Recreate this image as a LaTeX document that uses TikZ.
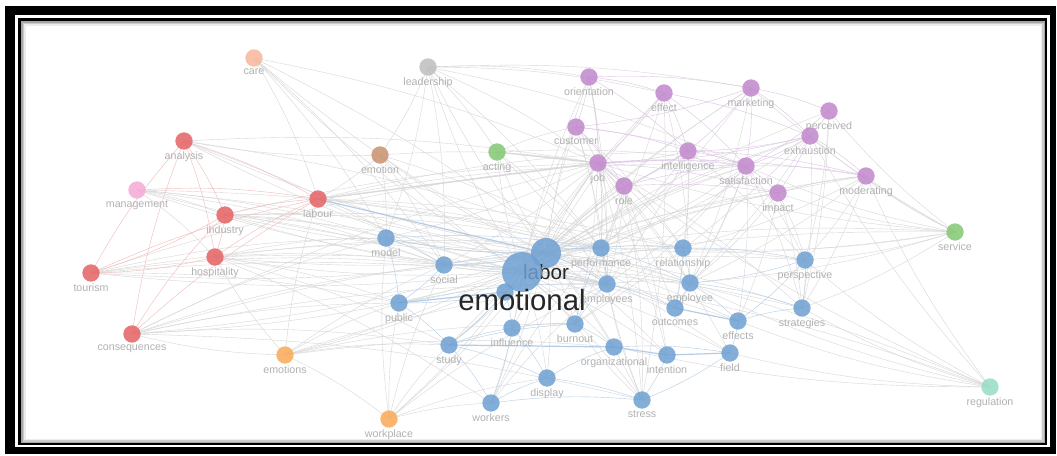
\documentclass[tikz,border=0pt]{standalone}
\usepackage{fontspec}
\setmainfont{Liberation Sans}
\usetikzlibrary{backgrounds}

\definecolor{cRed}{RGB}{229,98,100}
\definecolor{cBlue}{RGB}{110,160,210}
\definecolor{cPurple}{RGB}{193,136,205}
\definecolor{cGreen}{RGB}{130,200,115}
\definecolor{cTeal}{RGB}{150,220,195}
\definecolor{cOrange}{RGB}{250,170,85}
\definecolor{cPeach}{RGB}{248,183,155}
\definecolor{cBrown}{RGB}{200,145,110}
\definecolor{cPink}{RGB}{245,170,215}
\definecolor{cGrey}{RGB}{190,190,190}
\definecolor{eRed}{RGB}{242,185,185}
\definecolor{ePurple}{RGB}{220,195,228}
\definecolor{eBlue}{RGB}{180,205,230}
\definecolor{eGrey}{RGB}{215,215,215}

\tikzset{
    kw/.style={circle, minimum size=13pt, inner sep=0pt, fill opacity=0.85,
        label distance=-1.5pt},
    lbl/.style={font=\fontsize{8}{9}\selectfont, text=gray!60, inner sep=1pt},
    biglbl/.style={text=black!85, inner sep=0pt},
    edge/.style={eGrey, line width=0.3pt},
}

\begin{document}
\begin{tikzpicture}[x=0.75pt, y=-0.75pt]
    \useasboundingbox (0,0) rectangle (1057,455);

    % keywords, one colour per cluster
    \foreach \nm/\x/\y/\c in {care/254/58/cPeach, leadership/428/67/cGrey,
            orientation/589/77/cPurple, effect/664/93/cPurple, marketing/751/88/cPurple,
            perceived/829/111/cPurple, exhaustion/810/136/cPurple, analysis/184/141/cRed,
            customer/576/127/cPurple, intelligence/688/151/cPurple, acting/497/152/cGreen,
            emotion/380/155/cBrown, job/598/163/cPurple, satisfaction/746/166/cPurple,
            moderating/866/176/cPurple, management/137/190/cPink, role/624/186/cPurple,
            impact/778/193/cPurple, labour/318/199/cRed, industry/225/215/cRed,
            hospitality/215/257/cRed, tourism/91/273/cRed, model/386/238/cBlue,
            social/444/265/cBlue, performance/601/248/cBlue, relationship/683/248/cBlue,
            service/955/232/cGreen, perspective/805/260/cBlue, employees/607/284/cBlue,
            employee/690/283/cBlue, public/399/303/cBlue, outcomes/675/308/cBlue,
            strategies/802/308/cBlue, influence/512/328/cBlue, burnout/575/324/cBlue,
            effects/738/321/cBlue, consequences/132/334/cRed, study/449/345/cBlue,
            organizational/614/347/cBlue, intention/667/355/cBlue, field/730/353/cBlue,
            emotions/285/355/cOrange, display/547/378/cBlue, regulation/990/387/cTeal,
            workers/491/403/cBlue, stress/642/400/cBlue, workplace/389/419/cOrange}
        \node[kw, fill=\c, label={[lbl]below:\nm}] (\nm) at (\x,\y) {};

    \node[kw, fill=cBlue] (under) at (505,292) {};
    \node[kw, fill=cBlue, minimum size=22.5pt,
        label={[biglbl, yshift=3pt, font=\fontsize{15.5}{16}\selectfont]below:labor}] (labor) at (546,253) {};
    \node[kw, fill=cBlue, minimum size=30pt,
        label={[biglbl, yshift=2.5pt, font=\fontsize{22}{24}\selectfont]below:emotional}] (emotional) at (522,272) {};

    \begin{scope}[on background layer]
        % frame
        \fill[white] (0,0) rectangle (1057,455);
        \fill[black] (5,6) rectangle (1056,454);
        \fill[white] (15,15) rectangle (1050,447);
        \fill[black] (18,18) rectangle (1047,445);
        \fill[gray!70] (21,21) rectangle (1045,443);
        \fill[gray!40] (22.5,22.5) rectangle (1043.5,441.5);
        \fill[gray!15] (24,24) rectangle (1042,440);
        \fill[white] (25.5,25.5) rectangle (1040.5,438.5);

        % links to the two hubs
        \foreach \n in {care,leadership,orientation,effect,marketing,perceived,exhaustion,
                analysis,customer,intelligence,acting,emotion,job,satisfaction,moderating,
                management,role,impact,labour,industry,hospitality,tourism,model,social,
                performance,relationship,service,perspective,employees,employee,public,
                outcomes,strategies,influence,burnout,effects,consequences,study,
                organizational,intention,field,emotions,display,regulation,workers,stress,
                workplace,under}
            \draw[edge] (emotional.center) to[bend left=6] (\n.center);
        \foreach \n in {care,leadership,orientation,effect,marketing,exhaustion,analysis,
                customer,intelligence,acting,emotion,job,satisfaction,moderating,management,
                role,impact,labour,industry,hospitality,tourism,model,social,performance,
                relationship,service,perspective,employees,employee,public,outcomes,
                strategies,influence,burnout,effects,consequences,study,organizational,
                intention,field,emotions,display,regulation,workers,stress,workplace}
            \draw[edge] (labor.center) to[bend left=6] (\n.center);

        % links between clusters
        \foreach \a/\b in {care/labour, care/model, care/job, care/social, care/employees,
                leadership/emotion, leadership/acting, leadership/job, leadership/orientation,
                leadership/marketing, leadership/model, leadership/performance, leadership/social,
                leadership/satisfaction, leadership/effect, labour/performance,
                labour/relationship, labour/employee, labour/intelligence, labour/satisfaction,
                acting/satisfaction, acting/performance, acting/employees, acting/customer,
                emotion/job, emotion/model, emotion/social, emotion/performance, emotion/labour,
                emotion/analysis, service/moderating, service/perspective, service/strategies,
                service/exhaustion, service/job, service/performance, service/employee,
                service/relationship, service/perceived, service/marketing, service/satisfaction,
                service/impact, regulation/strategies, regulation/perspective, regulation/field,
                regulation/exhaustion, regulation/job, regulation/employee,
                regulation/organizational, regulation/moderating, regulation/effects,
                emotions/workplace, emotions/consequences, emotions/study, emotions/public,
                emotions/social, emotions/employees, emotions/hospitality, emotions/labour,
                emotions/burnout, emotions/organizational, consequences/study, consequences/model,
                consequences/job, consequences/employees, consequences/social, consequences/public,
                consequences/performance, consequences/stress, tourism/model, tourism/social,
                tourism/employees, tourism/job, tourism/performance, tourism/public,
                hospitality/social, hospitality/model, hospitality/performance,
                hospitality/employees, hospitality/public, hospitality/study, hospitality/workers,
                industry/model, industry/social, industry/performance, industry/job,
                industry/employees, industry/relationship, analysis/job, analysis/performance,
                analysis/social, management/model, management/social, management/performance,
                management/employees, management/hospitality, management/industry,
                job/performance, job/employees, job/burnout, job/employee, job/outcomes,
                job/stress, job/relationship, job/strategies, job/intention, job/study,
                job/social, job/model, job/field, satisfaction/performance, satisfaction/employees,
                satisfaction/employee, satisfaction/outcomes, satisfaction/strategies,
                satisfaction/perspective, satisfaction/burnout, satisfaction/effects,
                intelligence/performance, intelligence/employees, intelligence/relationship,
                intelligence/outcomes, intelligence/perspective, role/performance,
                role/employees, role/stress, role/intention, role/burnout, impact/strategies,
                impact/perspective, impact/employee, impact/effects, moderating/perspective,
                moderating/strategies, moderating/relationship, moderating/employee,
                customer/performance, customer/employees, customer/relationship,
                orientation/performance, orientation/employees, effect/performance,
                effect/employee, effect/stress, marketing/performance, marketing/employee,
                exhaustion/performance, exhaustion/employee, exhaustion/strategies,
                exhaustion/burnout, perceived/strategies, perceived/perspective,
                workplace/study, workplace/workers, workplace/public, workplace/social,
                workplace/display, workplace/model, workplace/employees, workers/employees,
                workers/performance, stress/employees, stress/performance, stress/burnout}
            \draw[edge] (\a.center) to[bend left=6] (\b.center);
        \draw[edge, line width=1pt, gray!30] (labour.center) -- (job.center);
        \draw[edge, line width=1pt, gray!30] (acting.center) -- (job.center);

        % links inside the red cluster
        \foreach \a/\b in {analysis/industry, analysis/hospitality, analysis/labour,
                industry/labour, industry/tourism, industry/hospitality, hospitality/tourism,
                tourism/labour, consequences/industry, consequences/labour,
                consequences/analysis, tourism/analysis, hospitality/labour, management/labour}
            \draw[edge, eRed] (\a.center) to[bend left=6] (\b.center);

        % links inside the purple cluster
        \foreach \a/\b in {orientation/customer, orientation/job, orientation/marketing,
                orientation/effect, orientation/intelligence, effect/intelligence, effect/job,
                effect/exhaustion, effect/satisfaction, marketing/exhaustion,
                marketing/satisfaction, marketing/perceived, marketing/intelligence,
                marketing/customer, perceived/exhaustion, perceived/satisfaction,
                exhaustion/satisfaction, exhaustion/intelligence, exhaustion/moderating,
                exhaustion/job, exhaustion/impact, customer/intelligence, customer/job,
                customer/satisfaction, customer/role, intelligence/job,
                intelligence/satisfaction, intelligence/role, job/satisfaction, job/role,
                role/impact, role/satisfaction, satisfaction/impact, satisfaction/moderating,
                impact/moderating, job/impact, job/moderating, intelligence/moderating}
            \draw[edge, ePurple] (\a.center) to[bend left=6] (\b.center);

        % links inside the blue cluster
        \foreach \a/\b in {model/social, model/performance, model/public, social/performance,
                social/public, social/employees, public/study, public/employees,
                study/influence, study/workers, study/display, study/burnout,
                influence/burnout, influence/display, influence/workers,
                burnout/organizational, burnout/employees, burnout/performance,
                performance/relationship, performance/employees, performance/employee,
                relationship/employee, relationship/perspective, relationship/outcomes,
                employees/employee, employees/outcomes, employee/outcomes, employee/strategies,
                employee/effects, effects/field, effects/strategies, organizational/field,
                workers/display, workers/stress, display/stress, display/organizational,
                intention/stress, field/stress, perspective/strategies, perspective/employee,
                perspective/effects, labor/performance, labor/employees, labor/social,
                labor/model, under/study, under/public, under/influence}
            \draw[edge, eBlue] (\a.center) to[bend left=6] (\b.center);
        \foreach \a/\b in {study/organizational, outcomes/effects, organizational/intention,
                intention/field, public/under, labour/labor}
            \draw[edge, eBlue, line width=0.9pt] (\a.center) -- (\b.center);
    \end{scope}
\end{tikzpicture}
\end{document}
